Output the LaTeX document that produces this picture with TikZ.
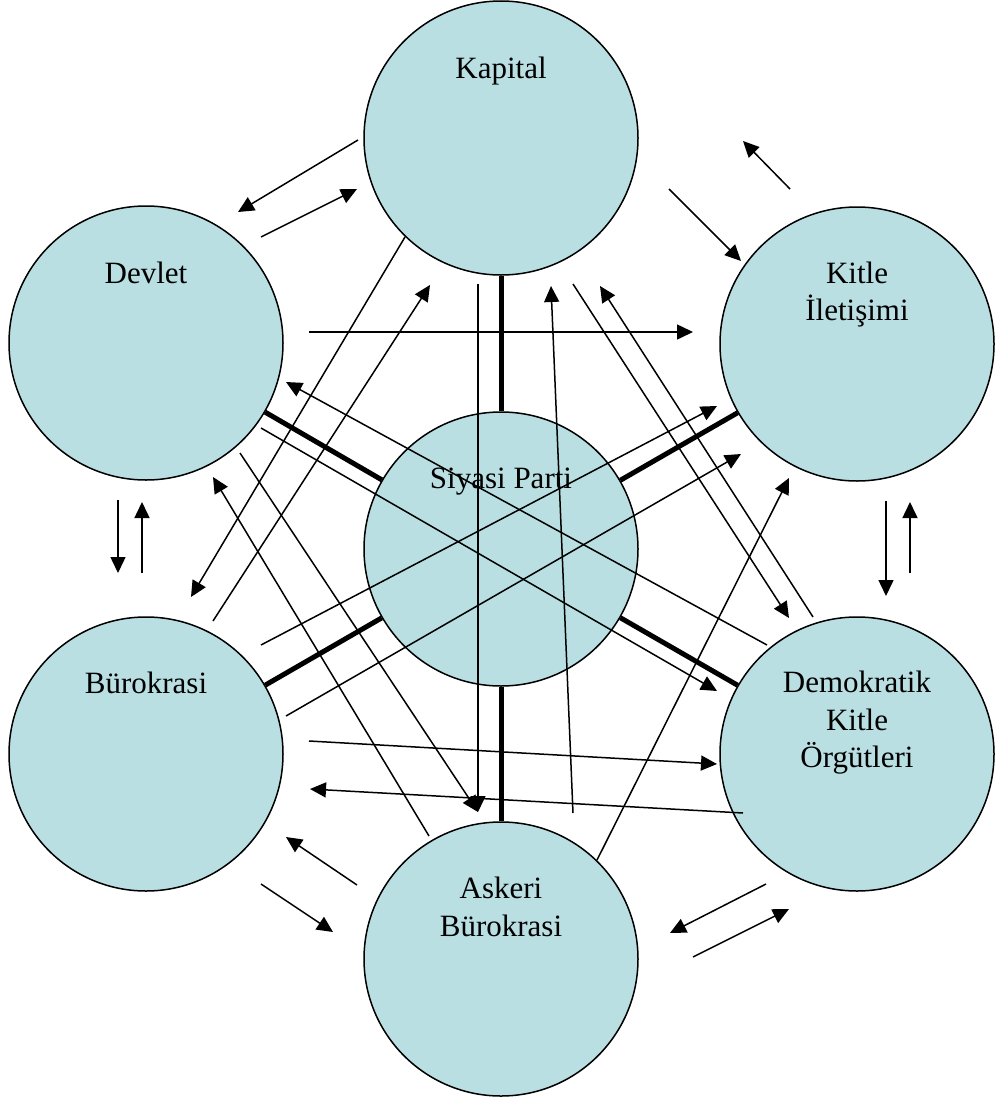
\documentclass[tikz,border=0pt]{standalone}
\usepackage{fontspec}
\setmainfont{Liberation Serif}
\usetikzlibrary{arrows.meta}
\definecolor{circfill}{RGB}{185,223,227}
\begin{document}
\begin{tikzpicture}[x=1pt,y=-1pt,
  circ/.style={circle, draw=black, line width=1.5pt, fill=circfill, minimum size=274pt, inner sep=0pt},
  lbl/.style={anchor=base, font=\fontsize{31}{37}\selectfont, inner sep=0pt},
  arr/.style={line width=1.5pt, -{Triangle[length=16pt,width=15pt]}},
  heavy/.style={line width=5pt}]
\useasboundingbox (0,0) rectangle (994,1100);
% circles
\node[circ] (kap) at (501,138) {};
\node[circ] (dev) at (146,343) {};
\node[circ] (kit) at (857,344) {};
\node[circ] (sp)  at (501,549) {};
\node[circ] (bur) at (146,754) {};
\node[circ] (dem) at (857,754) {};
\node[circ] (ask) at (501,959) {};
% labels
\node[lbl] (kapT) at (501,78) {Kapital};
\node[lbl] (devT) at (146,283) {Devlet};
\node[lbl] (kitT1) at (857,283) {Kitle};
\node[lbl] (kitT2) at (857,320) {İletişimi};
\node[lbl] (spT) at (501,488) {Siyasi Parti};
\node[lbl] (burT) at (146,693) {Bürokrasi};
\node[lbl] (demT1) at (857,692) {Demokratik};
\node[lbl] (demT2) at (857,730) {Kitle};
\node[lbl] (demT3) at (857,767) {Örgütleri};
\node[lbl] (askT1) at (501,898) {Askeri};
\node[lbl] (askT2) at (501,936) {Bürokrasi};
% thick links to the centre
\draw[heavy] (kap) -- (sp);
\draw[heavy] (dev) -- (sp);
\draw[heavy] (kit) -- (sp);
\draw[heavy] (bur) -- (sp);
\draw[heavy] (dem) -- (sp);
\draw[heavy] (ask) -- (sp);
% free end points
\coordinate (a1s) at (358,140); \coordinate (a1e) at (238,212);
\coordinate (a2s) at (261,237); \coordinate (a2e) at (357,189);
\coordinate (b1s) at (669,189); \coordinate (b1e) at (741,261);
\coordinate (b2s) at (790,189); \coordinate (b2e) at (743,141);
\coordinate (c1s) at (118,500); \coordinate (c1e) at (118,573);
\coordinate (c2s) at (142,573); \coordinate (c2e) at (142,502);
\coordinate (d1s) at (886,501); \coordinate (d1e) at (886,596);
\coordinate (d2s) at (910,573); \coordinate (d2e) at (910,502);
\coordinate (e1s) at (357,885); \coordinate (e1e) at (286,837);
\coordinate (e2s) at (261,884); \coordinate (e2e) at (333,932);
\coordinate (f1s) at (766,884); \coordinate (f1e) at (670,933);
\coordinate (f2s) at (693,957); \coordinate (f2e) at (789,909);
\coordinate (g1s) at (309,332); \coordinate (g1e) at (693,332);
\coordinate (g2s) at (309,741); \coordinate (g2e) at (717,764);
\coordinate (g3s) at (743,813); \coordinate (g3e) at (310,789);
\coordinate (h1s) at (478,284); \coordinate (h1e) at (478,812);
\coordinate (h2s) at (573,813); \coordinate (h2e) at (551,286);
\coordinate (i1s) at (405,237); \coordinate (i1e) at (191,597);
\coordinate (i2s) at (213,621); \coordinate (i2e) at (430,285);
\coordinate (i3s) at (240,453); \coordinate (i3e) at (478,812);
\coordinate (i4s) at (429,836); \coordinate (i4e) at (213,477);
\coordinate (j1s) at (573,284); \coordinate (j1e) at (789,618);
\coordinate (j2s) at (813,617); \coordinate (j2e) at (600,286);
\coordinate (k1s) at (597,860); \coordinate (k1e) at (789,478);
\coordinate (l1s) at (767,645); \coordinate (l1e) at (286,382);
\coordinate (l2s) at (261,428); \coordinate (l2e) at (717,691);
\coordinate (m1s) at (261,645); \coordinate (m1e) at (717,406);
\coordinate (m2s) at (286,716); \coordinate (m2e) at (741,454);
% thin arrows
\draw[arr] (a1s) -- (a1e);
\draw[arr] (a2s) -- (a2e);
\draw[arr] (b1s) -- (b1e);
\draw[arr] (b2s) -- (b2e);
\draw[arr] (c1s) -- (c1e);
\draw[arr] (c2s) -- (c2e);
\draw[arr] (d1s) -- (d1e);
\draw[arr] (d2s) -- (d2e);
\draw[arr] (e1s) -- (e1e);
\draw[arr] (e2s) -- (e2e);
\draw[arr] (f1s) -- (f1e);
\draw[arr] (f2s) -- (f2e);
\draw[arr] (g1s) -- (g1e);
\draw[arr] (g2s) -- (g2e);
\draw[arr] (g3s) -- (g3e);
\draw[arr] (h1s) -- (h1e);
\draw[arr] (h2s) -- (h2e);
\draw[arr] (i1s) -- (i1e);
\draw[arr] (i2s) -- (i2e);
\draw[arr] (i3s) -- (i3e);
\draw[arr] (i4s) -- (i4e);
\draw[arr] (j1s) -- (j1e);
\draw[arr] (j2s) -- (j2e);
\draw[arr] (k1s) -- (k1e);
\draw[arr] (l1s) -- (l1e);
\draw[arr] (l2s) -- (l2e);
\draw[arr] (m1s) -- (m1e);
\draw[arr] (m2s) -- (m2e);
\end{tikzpicture}
\end{document}
